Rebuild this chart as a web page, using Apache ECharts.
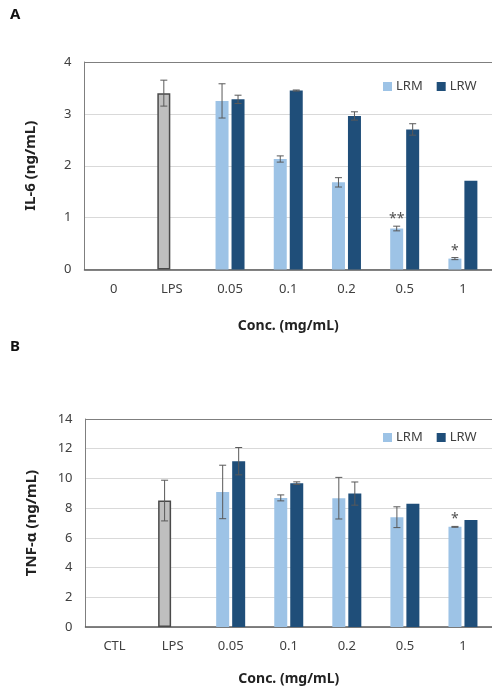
<!DOCTYPE html>
<html>
<head>
<meta charset="utf-8">
<script src="https://cdn.jsdelivr.net/npm/echarts@6/dist/echarts.min.js"></script>
<style>html,body{margin:0;padding:0;background:#fff}#c{width:492px;height:687px}</style>
</head>
<body>
<div id="c"></div>
<script>
// ---- Panel A: IL-6 ----
const categoriesA = ['0', 'LPS', '0.05', '0.1', '0.2', '0.5', '1'];
const il6LRM    = [null, 3.40, 3.25, 2.13, 1.68, 0.79, 0.21];
const il6LRMErr = [null, 0.25, 0.33, 0.06, 0.09, 0.045, 0.02];
const il6LRW    = [null, null, 3.28, 3.45, 2.96, 2.70, 1.71];
const il6LRWErr = [null, null, 0.08, 0.01, 0.08, 0.11, 0];
const il6Sig    = ['', '', '', '', '', '**', '*'];
const yTicksA = { min: 0, max: 4, interval: 1 };

// ---- Panel B: TNF-alpha ----
const categoriesB = ['CTL', 'LPS', '0.05', '0.1', '0.2', '0.5', '1'];
const tnfLRM    = [null, 8.51, 9.09, 8.69, 8.67, 7.39, 6.74];
const tnfLRMErr = [null, 1.37, 1.80, 0.20, 1.40, 0.70, 0.03];
const tnfLRW    = [null, null, 11.16, 9.68, 8.98, 8.29, 7.21];
const tnfLRWErr = [null, null, 0.92, 0.09, 0.78, 0, 0];
const tnfSig    = ['', '', '', '', '', '', '*'];
const yTicksB = { min: 0, max: 14, interval: 2 };

const FONT = 'Noto Sans';
const C_LRM = '#9dc3e6', C_LRW = '#1f4e79', C_LPS = '#bfbfbf', C_EDGE = '#595959';
const TXT = '#404040';
const BAR_W = 13, OFFSET = 8;

function lrmData(vals) {
  return vals.map((v, i) => {
    if (v == null) return null;
    if (i === 1) return { value: v, itemStyle: { color: C_LPS, borderColor: '#4a4a4a', borderWidth: 1.5 } };
    return v;
  });
}
function errData(vals, errs) {
  const out = [];
  vals.forEach((v, i) => { if (v != null) out.push([i, v, errs[i] || 0]); });
  return out;
}
function errSeries(idx, vals, errs, off, sig) {
  return {
    type: 'custom', xAxisIndex: idx, yAxisIndex: idx, z: 10, silent: true,
    data: errData(vals, errs),
    renderItem: function (params, api) {
      const i = api.value(0), v = api.value(1), e = api.value(2);
      const s = sig ? sig[i] : '';
      const x = api.coord([i, v])[0] + off;
      const yT = api.coord([i, v + e])[1];
      const yB = api.coord([i, v - e])[1];
      const children = [];
      if (e > 0) {
        const st = { stroke: C_EDGE, lineWidth: 1 };
        children.push({ type: 'line', shape: { x1: x, y1: yT, x2: x, y2: yB }, style: st });
        children.push({ type: 'line', shape: { x1: x - 3.5, y1: yT, x2: x + 3.5, y2: yT }, style: st });
        children.push({ type: 'line', shape: { x1: x - 3.5, y1: yB, x2: x + 3.5, y2: yB }, style: st });
      }
      if (s) {
        children.push({ type: 'text', x: x, y: yT,
          style: { text: s, fill: '#505050', font: '14px "' + FONT + '"', textAlign: 'center', textVerticalAlign: 'bottom' } });
      }
      return { type: 'group', children: children };
    }
  };
}

const chart = echarts.init(document.getElementById('c'), null, { renderer: 'canvas' });

function xAxis(idx, cats, nameGap) {
  return {
    gridIndex: idx, type: 'category', data: cats,
    name: 'Conc. (mg/mL)', nameLocation: 'middle', nameGap: nameGap,
    nameTextStyle: { fontFamily: FONT, fontWeight: 'bold', fontSize: 14, color: '#222' },
    axisLine: { show: true, lineStyle: { color: C_EDGE, width: 1.5 } },
    axisTick: { show: false },
    axisLabel: { fontFamily: FONT, fontSize: 13, color: TXT, margin: 13 },
    splitLine: { show: false }
  };
}
function xTopAxis(idx, cats) {
  return {
    gridIndex: idx, type: 'category', data: cats, position: 'top',
    axisLine: { show: true, lineStyle: { color: '#7f7f7f', width: 1 } },
    axisTick: { show: false }, axisLabel: { show: false }, splitLine: { show: false }
  };
}
function yAxis(idx, name, t, nameGap) {
  return {
    gridIndex: idx, type: 'value', min: t.min, max: t.max, interval: t.interval,
    name: name, nameLocation: 'middle', nameGap: nameGap, nameRotate: 90,
    nameTextStyle: { fontFamily: FONT, fontWeight: 'bold', fontSize: 15, color: '#222' },
    axisLine: { show: true, lineStyle: { color: '#7f7f7f', width: 1 } }, axisTick: { show: false },
    axisLabel: { fontFamily: FONT, fontSize: 13, color: TXT, margin: 13 },
    splitLine: { show: true, lineStyle: { color: '#d9d9d9', width: 1 } }
  };
}

chart.setOption({
  animation: false,
  textStyle: { fontFamily: FONT },
  graphic: [
    { type: 'text', left: 10, top: 7, style: { text: 'A', font: 'bold 15px "' + FONT + '"', fill: '#111' } },
    { type: 'text', left: 10, top: 339, style: { text: 'B', font: 'bold 15px "' + FONT + '"', fill: '#111' } }
  ],
  grid: [
    { left: 84.5, top: 62, width: 408, height: 207.5 },
    { left: 85.5, top: 419, width: 410, height: 208 }
  ],
  legend: [
    { left: 378, top: 75, itemWidth: 9, itemHeight: 9, itemGap: 14, icon: 'rect',
      data: [{ name: 'LRM' }, { name: 'LRW' }],
      textStyle: { fontFamily: FONT, fontSize: 13, color: TXT, padding: [0, 0, 0, -1] } },
    { left: 378, top: 426, itemWidth: 9, itemHeight: 9, itemGap: 14, icon: 'rect',
      data: [{ name: 'LRM' }, { name: 'LRW' }],
      textStyle: { fontFamily: FONT, fontSize: 13, color: TXT, padding: [0, 0, 0, -1] } }
  ],
  xAxis: [xAxis(0, categoriesA, 50), xAxis(1, categoriesB, 45), xTopAxis(0, categoriesA), xTopAxis(1, categoriesB)],
  yAxis: [yAxis(0, 'IL-6 (ng/mL)', yTicksA, 46), yAxis(1, 'TNF-α (ng/mL)', yTicksB, 46)],
  series: [
    { name: 'LRM', type: 'bar', xAxisIndex: 0, yAxisIndex: 0, barWidth: BAR_W, barGap: '23%', itemStyle: { color: C_LRM }, data: lrmData(il6LRM) },
    { name: 'LRW', type: 'bar', xAxisIndex: 0, yAxisIndex: 0, barWidth: BAR_W, barGap: '23%', itemStyle: { color: C_LRW }, data: il6LRW },
    errSeries(0, il6LRM, il6LRMErr, -OFFSET, il6Sig),
    errSeries(0, il6LRW, il6LRWErr, OFFSET, null),
    { name: 'LRM', type: 'bar', xAxisIndex: 1, yAxisIndex: 1, barWidth: BAR_W, barGap: '23%', itemStyle: { color: C_LRM }, data: lrmData(tnfLRM) },
    { name: 'LRW', type: 'bar', xAxisIndex: 1, yAxisIndex: 1, barWidth: BAR_W, barGap: '23%', itemStyle: { color: C_LRW }, data: tnfLRW },
    errSeries(1, tnfLRM, tnfLRMErr, -OFFSET, tnfSig),
    errSeries(1, tnfLRW, tnfLRWErr, OFFSET, null)
  ]
});
</script>
</body>
</html>
